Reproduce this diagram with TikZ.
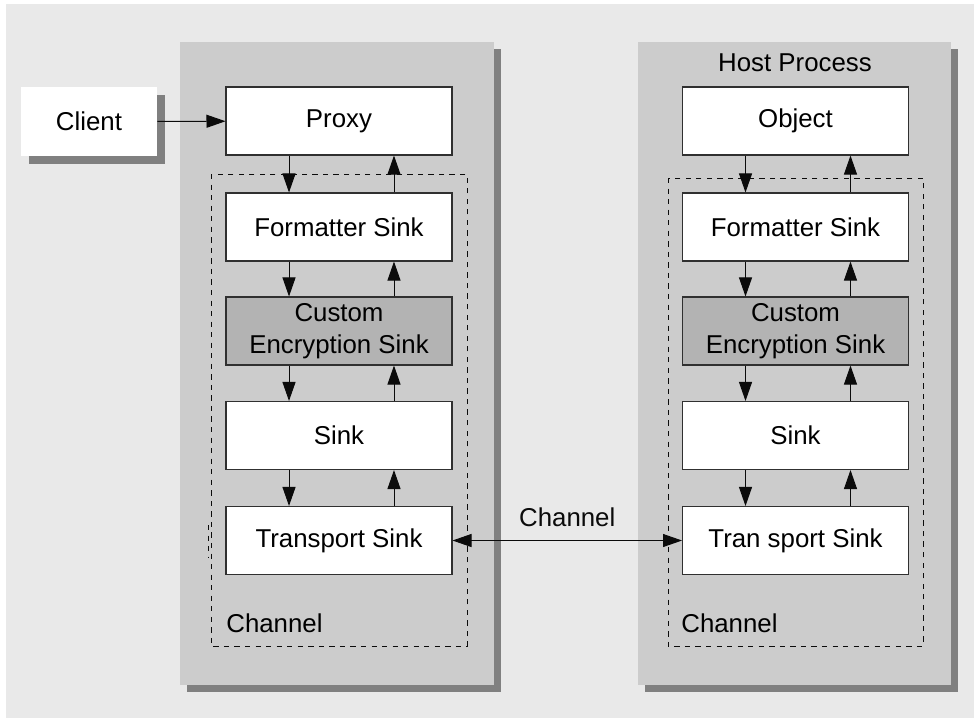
\documentclass[tikz,border=0pt]{standalone}
\usepackage{fontspec}
\setmainfont{Liberation Sans}
\usetikzlibrary{arrows.meta,positioning}
\definecolor{back}{HTML}{E9E9E9}
\definecolor{panel}{HTML}{CCCCCC}
\definecolor{dropgray}{HTML}{808080}
\definecolor{enc}{HTML}{B3B3B3}
\definecolor{ink}{HTML}{0B0B0B}

\begin{document}
\begin{tikzpicture}[x=0.02cm,y=-0.02cm,
  font=\fontsize{14.7}{18}\selectfont,
  sinkbox/.style={draw=ink!85,line width=0.6pt,fill=white,minimum width=4.52cm,
    minimum height=1.36cm,inner sep=0pt,align=center},
  encbox/.style={sinkbox,fill=enc},
  arr/.style={ink,line width=0.55pt,-{Triangle[length=0.38cm,width=0.26cm]}},
  dbl/.style={ink,line width=0.55pt,
    {Triangle[length=0.38cm,width=0.26cm]}-{Triangle[length=0.38cm,width=0.26cm]}},
  chanbox/.style={draw=ink,dashed,line width=0.5pt}]
  \useasboundingbox (0,0) rectangle (974,718);
  \fill[back] (6,4) rectangle (974,718);
  % the two processes, each with its drop shadow
  \foreach \xl/\xr in {180/494,638/951} {
    \fill[dropgray] (\xl+7,49) rectangle (\xr+7,692);
    \fill[panel] (\xl,42) rectangle (\xr,685);
  }
  % channel outlines
  \draw[chanbox] (211,174) rectangle (467,646);
  \draw[chanbox] (208,525) -- (208,557);
  \draw[chanbox] (668,178) rectangle (923,646);
  % client
  \fill[dropgray] (29,95) rectangle (165,164);
  \node[fill=white,minimum width=2.72cm,minimum height=1.38cm,inner sep=0pt] (client) at (89,121.5) {Client};
  % sink chain, client side
  \node[sinkbox] (lproxy) at (339,121) {Proxy};
  \node[sinkbox] (lfmt) at (339,227) {Formatter Sink};
  \node[encbox] (lenc) at (339,331) {Custom\\Encryption Sink};
  \node[sinkbox] (lsink) at (339,435.5) {Sink};
  \node[sinkbox] (ltrans) at (339,540.5) {Transport Sink};
  % sink chain, server side
  \node (host) at (795,63) {Host Process};
  \node[sinkbox] (robj) at (795.5,121) {Object};
  \node[sinkbox] (rfmt) at (795.5,227) {Formatter Sink};
  \node[encbox] (renc) at (795.5,331) {Custom\\Encryption Sink};
  \node[sinkbox] (rsink) at (795.5,435.5) {Sink};
  \node[sinkbox] (rtrans) at (795.5,540.5) {Tran sport Sink};
  \node[anchor=west,inner sep=0pt] (lchan) at (226,623) {Channel};
  \node[anchor=west,inner sep=0pt] (rchan) at (681,623) {Channel};
  % calls go down on the left, replies come up on the right
  \foreach \a/\b in {lproxy/lfmt,lfmt/lenc,lenc/lsink,lsink/ltrans,
                     robj/rfmt,rfmt/renc,renc/rsink,rsink/rtrans} {
    \draw[arr] ([xshift=-1cm]\a.south) -- ([xshift=-1cm]\b.north);
    \draw[arr] ([xshift=1.1cm]\b.north) -- ([xshift=1.1cm]\a.south);
  }
  \draw[arr] (client) -- (lproxy);
  \draw[dbl] (ltrans) -- node[midway,yshift=0.46cm] (link) {Channel} (rtrans);
\end{tikzpicture}
\end{document}
